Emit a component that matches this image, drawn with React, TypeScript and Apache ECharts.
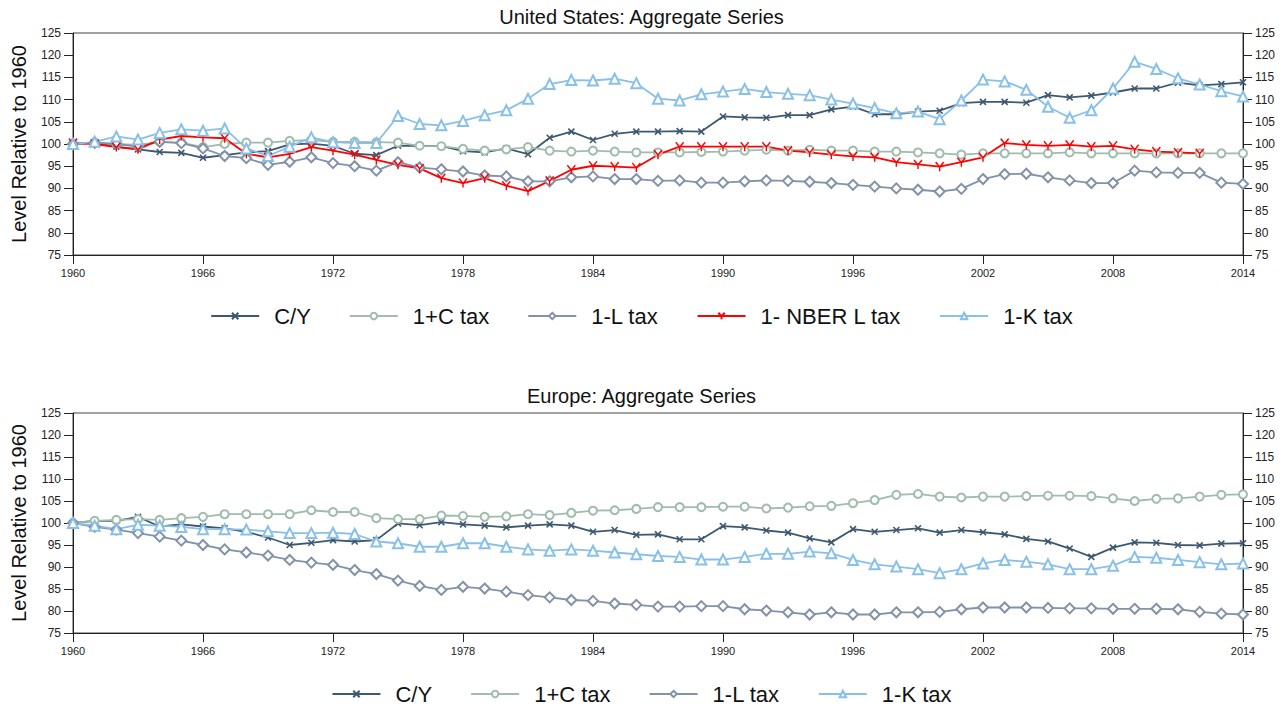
import React, { useEffect, useRef } from "react";
import * as echarts from "echarts";

const years: string[] = [];
for (let y = 1960; y <= 2014; y++) years.push(String(y));

const yTicks = [75, 125, 5]; // min, max, interval

const usCY = [
  100, 100.3, 99.4, 98.8, 98.2, 98, 96.9, 97.5, 98.1, 98.4,
  99.9, 100.1, 99.6, 97.8, 97.5, 99.6, 99.6, 99.6, 98.4, 98.1,
  99, 97.7, 101.4, 102.8, 100.9, 102.3, 102.8, 102.8, 102.9, 102.8,
  106.2, 106, 105.9, 106.5, 106.5, 107.8, 108.4, 106.7, 106.7, 107.3,
  107.5, 109.2, 109.5, 109.5, 109.3, 111, 110.5, 110.9, 111.6, 112.5,
  112.5, 113.8, 113.2, 113.5, 113.9,
];
const usCtax = [
  100, 100.3, 100, 99.8, 100.5, 100.3, 99.3, 100, 100.3, 100.3,
  100.7, 100.9, 100.5, 100.5, 100.4, 100.3, 99.6, 99.5, 98.9, 98.5,
  98.8, 99.3, 98.5, 98.3, 98.5, 98.3, 98.1, 98.1, 98.1, 98.2,
  98.3, 98.5, 98.7, 98.5, 98.7, 98.5, 98.5, 98.3, 98.3, 98.1,
  97.9, 97.6, 97.9, 97.9, 97.9, 97.9, 98.1, 97.9, 97.9, 97.9,
  97.9, 97.9, 97.9, 97.9, 97.9,
];
const usLtax = [
  100, 100.3, 100, 99.4, 100.5, 100.2, 99, 97.3, 96.8, 95.3,
  96, 97, 95.7, 95, 94, 95.9, 94.7, 94.3, 93.8, 92.9,
  92.7, 91.6, 91.6, 92.5, 92.7, 92.1, 92.1, 91.7, 91.8, 91.3,
  91.3, 91.6, 91.8, 91.7, 91.5, 91.2, 90.8, 90.4, 90, 89.7,
  89.3, 89.9, 92.1, 93.2, 93.3, 92.5, 91.8, 91.2, 91.2, 94,
  93.6, 93.5, 93.5, 91.3, 91,
];
const usNberL = [
  100.2, 100, 99.3, 98.8, 101, 101.8, 101.5, 101.3, 97.8, 97,
  97.8, 99.3, 98.5, 97.6, 96.4, 95.3, 94.5, 92.3, 91.2, 92.3,
  90.6, 89.4, 91.7, 94.2, 95.1, 94.9, 94.7, 97.6, 99.4, 99.4,
  99.4, 99.4, 99.4, 98.5, 98.1, 97.6, 97.2, 97, 95.9, 95.4,
  94.9, 95.9, 97, 100.2, 99.8, 99.6, 99.8, 99.4, 99.6, 98.8,
  98.3, 98.1, 97.9, null, null,
];
const usKtax = [
  100, 100.5, 101.7, 101, 102.5, 103.3, 103, 103.5, 99, 97.3,
  99.4, 101.5, 100.4, 100.2, 100.2, 106.3, 104.5, 104.2, 105.2, 106.5,
  107.6, 110.2, 113.5, 114.4, 114.3, 114.7, 113.7, 110.2, 109.8, 111.2,
  111.8, 112.4, 111.7, 111.3, 111, 110, 109.1, 108.1, 106.9, 107.3,
  105.6, 109.8, 114.5, 114.1, 112.2, 108.4, 105.9, 107.6, 112.5, 118.5,
  116.9, 114.8, 113.4, 111.9, 110.7,
];

const euCY = [
  100, 100.5, 100.5, 101.4, 99.2, 99.7, 99.2, 98.8, 98, 96.7,
  95, 95.5, 96.1, 95.8, 96.1, 99.9, 99.5, 100.2, 99.7, 99.4,
  99, 99.4, 99.7, 99.4, 98, 98.4, 97.3, 97.4, 96.3, 96.3,
  99.3, 99, 98.3, 97.8, 96.5, 95.6, 98.6, 98, 98.4, 98.8,
  97.8, 98.4, 97.9, 97.4, 96.4, 95.8, 94.2, 92.3, 94.4, 95.6,
  95.5, 95, 94.9, 95.3, 95.4,
];
const euCtax = [
  100, 100.5, 100.7, 100.9, 100.7, 101.1, 101.4, 102, 102, 102,
  102, 102.9, 102.5, 102.5, 101.1, 100.9, 100.9, 101.7, 101.6, 101.4,
  101.5, 102, 101.8, 102.3, 102.8, 102.9, 103.2, 103.6, 103.6, 103.6,
  103.7, 103.7, 103.3, 103.5, 103.8, 103.9, 104.5, 105.2, 106.4, 106.6,
  106, 105.8, 106, 106, 106.1, 106.2, 106.2, 106.1, 105.6, 105,
  105.5, 105.6, 106, 106.4, 106.5,
];
const euLtax = [
  100, 99.1, 98.5, 97.7, 96.9, 96, 95, 94, 93.3, 92.6,
  91.6, 91, 90.5, 89.3, 88.4, 86.9, 85.7, 84.8, 85.5, 85.1,
  84.4, 83.6, 83.1, 82.5, 82.3, 81.7, 81.4, 81, 81, 81.1,
  81.1, 80.4, 80.1, 79.7, 79.2, 79.7, 79.2, 79.2, 79.7, 79.7,
  79.8, 80.4, 80.8, 80.8, 80.8, 80.7, 80.6, 80.6, 80.5, 80.5,
  80.5, 80.4, 79.8, 79.4, 79.2,
];
const euKtax = [
  100, 99.4, 98.6, 99.6, 99.4, 99.1, 98.6, 98.6, 98.5, 98.1,
  97.7, 97.7, 97.8, 97.5, 95.8, 95.4, 94.6, 94.6, 95.4, 95.4,
  94.6, 94, 93.7, 94, 93.7, 93.3, 92.9, 92.5, 92.3, 91.7,
  91.7, 92.3, 93, 93, 93.5, 93.1, 91.6, 90.6, 90.1, 89.5,
  88.6, 89.5, 90.8, 91.6, 91.2, 90.6, 89.5, 89.5, 90.3, 92.3,
  92.1, 91.6, 91.1, 90.6, 90.8,
];

const names = ["C/Y", "1+C tax", "1-L tax", "1- NBER L tax", "1-K tax"];
const titles = ["United States: Aggregate Series", "Europe: Aggregate Series"];
const yName = "Level Relative to 1960";

const FONT = "Liberation Sans, Arial, sans-serif";
const COLORS: Record<string, string> = {
  "C/Y": "#3e586f",
  "1+C tax": "#9fbcac",
  "1-L tax": "#8292a8",
  "1- NBER L tax": "#ff0000",
  "1-K tax": "#88c0ea",
};

function makeSeries(name: string, data: (number | null)[], gi: number) {
  const c = COLORS[name];
  let symbol = "emptyCircle";
  let symbolSize: any = 8;
  let itemStyle: any = { color: c, borderColor: c, borderWidth: 1.5 };
  if (name === "C/Y") {
    symbol = "path://M0,0L10,10M10,0L0,10";
    symbolSize = 6;
    itemStyle = { color: "rgba(0,0,0,0)", borderColor: c, borderWidth: 1.6 };
  } else if (name === "1-L tax") {
    symbol = "emptyDiamond";
    symbolSize = 10;
  } else if (name === "1-K tax") {
    symbol = "emptyTriangle";
    symbolSize = 10;
  } else if (name === "1- NBER L tax") {
    symbol = "path://M0,0L5,6L10,0M5,6L5,11";
    symbolSize = [8, 9];
    itemStyle = { color: "rgba(0,0,0,0)", borderColor: c, borderWidth: 1.5 };
  }
  return {
    type: "line",
    name,
    xAxisIndex: gi,
    yAxisIndex: gi * 2,
    data,
    symbol,
    symbolSize,
    showAllSymbol: true,
    itemStyle,
    lineStyle: { color: c, width: 1.8 },
    connectNulls: false,
  };
}

export default function App() {
  const ref = useRef<HTMLDivElement>(null);
  useEffect(() => {
    if (!ref.current) return;
    const chart = echarts.init(ref.current, undefined, { renderer: "svg" });
    const grids = [
      { left: 73, top: 33, width: 1170, height: 222 },
      { left: 73, top: 413, width: 1170, height: 220 },
    ];
    const xAxes = grids.map((_, i) => ({
      type: "category",
      gridIndex: i,
      data: years,
      boundaryGap: false,
      axisLine: { lineStyle: { color: "#222", width: 1 } },
      axisTick: { interval: 5, length: 9, lineStyle: { color: "#222" } },
      axisLabel: { interval: 5, fontSize: 11, color: "#222", fontFamily: FONT, margin: 12 },
      splitLine: { show: false },
    }));
    const yAxes: any[] = [];
    grids.forEach((_, i) => {
      const base = {
        type: "value",
        gridIndex: i,
        min: yTicks[0],
        max: yTicks[1],
        interval: yTicks[2],
        axisLine: { show: true, lineStyle: { color: "#222", width: 1 } },
        axisTick: { show: true, length: 9, lineStyle: { color: "#222" } },
        axisLabel: { fontSize: 12, color: "#222", fontFamily: FONT, margin: 12 },
        splitLine: { show: false },
      };
      yAxes.push({
        ...base,
        position: "left",
        name: yName,
        nameLocation: "middle",
        nameRotate: 90,
        nameGap: 44,
        nameTextStyle: { fontSize: 20, color: "#111", fontFamily: FONT },
      });
      yAxes.push({ ...base, position: "right" });
    });

    const series = [
      makeSeries("C/Y", usCY, 0),
      makeSeries("1+C tax", usCtax, 0),
      makeSeries("1-L tax", usLtax, 0),
      makeSeries("1- NBER L tax", usNberL, 0),
      makeSeries("1-K tax", usKtax, 0),
      makeSeries("C/Y", euCY, 1),
      makeSeries("1+C tax", euCtax, 1),
      makeSeries("1-L tax", euLtax, 1),
      makeSeries("1-K tax", euKtax, 1),
    ];

    const legendBase = {
      left: "center",
      itemWidth: 48,
      itemHeight: 8,
      itemGap: 38,
      selectedMode: false,
      textStyle: { fontSize: 22, color: "#111", fontFamily: FONT, padding: [0, 0, 0, 10] },
    };

    chart.setOption({
      animation: false,
      backgroundColor: "#ffffff",
      title: [
        { text: titles[0], left: "center", top: 2, textStyle: { fontSize: 20, fontWeight: "normal", color: "#111", fontFamily: FONT } },
        { text: titles[1], left: "center", top: 381, textStyle: { fontSize: 20, fontWeight: "normal", color: "#111", fontFamily: FONT } },
      ],
      grid: grids.map((g) => ({ ...g, show: true, borderColor: "#444", borderWidth: 1, backgroundColor: "transparent" })),
      xAxis: xAxes,
      yAxis: yAxes,
      legend: [
        { ...legendBase, top: 300, data: names },
        { ...legendBase, top: 678, data: ["C/Y", "1+C tax", "1-L tax", "1-K tax"] },
      ],
      series,
    });
    return () => chart.dispose();
  }, []);
  return (
    <div
      ref={ref}
      style={{ position: "fixed", left: 0, top: 0, width: 1283, height: 709, background: "#fff" }}
    />
  );
}
